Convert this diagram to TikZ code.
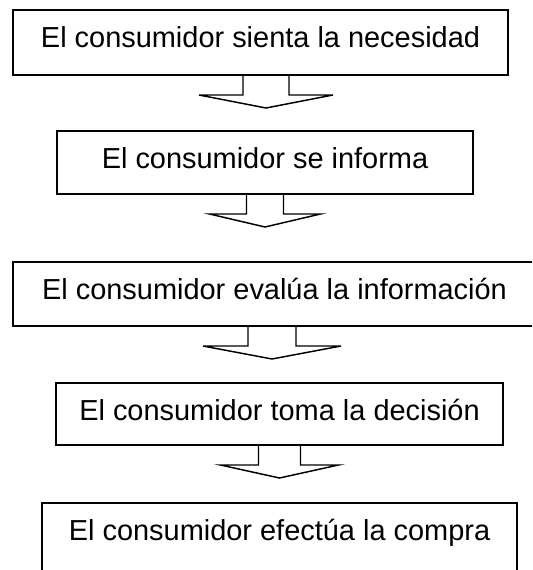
\documentclass[tikz,border=0pt]{standalone}
\usepackage{fontspec}
\setmainfont{Liberation Sans}
\usetikzlibrary{calc}

% hollow block arrow hanging under a box: box, x offset, half shaft, half head
\newcommand{\flecha}[4]{%
  \draw[flecha] ($(#1.south)+({#2-#3},0)$) -- ++(0,19) -- ++({#3-#4},0)
    -- ($(#1.south)+(#2,32)$) -- ++(#4,-13) -- ++({#3-#4},0) -- ++(0,-19);
}

\begin{document}
\begin{tikzpicture}[
  x=0.75pt, y=-0.75pt,
  caja/.style={draw, line width=1.5pt, inner sep=0pt, anchor=north,
               minimum width=#1*0.75pt, text height=28pt,
               font=\fontsize{21.7pt}{26pt}\selectfont},
  flecha/.style={line width=1.1pt}
]
  \useasboundingbox (0,0) rectangle (532,570);
  \clip (0,0) rectangle (532,570);

  % Steps
  \node[caja=495, text depth=20.75pt] (b1) at (260.5,9)
    {El consumidor sienta la necesidad};
  \node[caja=416, text depth=19.25pt] (b2) at (265,130)
    {El consumidor se informa};
  \node[caja=523, text depth=20pt] (b3) at (274.5,261)
    {El consumidor evalúa la información};
  \node[caja=447, text depth=18.5pt] (b4) at (279.5,382)
    {El consumidor toma la decisión};
  \node[caja=475, text depth=39.5pt] (b5) at (279.5,502)
    {El consumidor efectúa la compra};

  % Arrows between steps
  \flecha{b1}{5.5}{23}{67}
  \flecha{b2}{0}{18.5}{55.5}
  \flecha{b3}{-2.5}{24}{69}
  \flecha{b4}{0}{21}{59}
\end{tikzpicture}
\end{document}
